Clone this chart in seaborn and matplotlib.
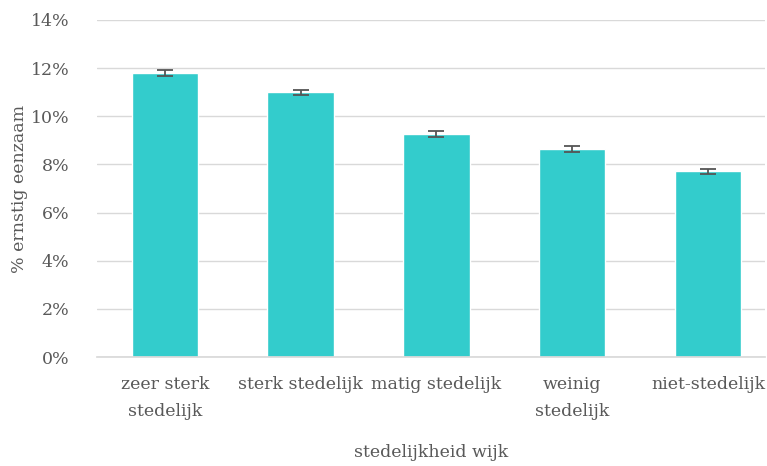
import numpy as np
import pandas as pd
import matplotlib
matplotlib.use('Agg')
import matplotlib.pyplot as plt
import seaborn as sns
from matplotlib.ticker import PercentFormatter

# ------------------------------------------------------------------
# Data
# ------------------------------------------------------------------
categories = ['zeer sterk\nstedelijk', 'sterk stedelijk', 'matig stedelijk',
              'weinig\nstedelijk', 'niet-stedelijk']
pct_lonely = [11.8, 11.0, 9.25, 8.65, 7.72]
err = [0.14, 0.11, 0.13, 0.12, 0.10]
yticks = [0, 2, 4, 6, 8, 10, 12, 14]

df = pd.DataFrame({'cat': categories, 'pct': pct_lonely})

sns.set_theme(style='white')
plt.rcParams['font.family'] = ['DejaVu Serif']

text_col = '#595959'
fig = plt.figure(figsize=(7.67, 4.66), dpi=100)
ax = fig.add_axes([97 / 767, 1 - 357 / 466, 668 / 767, 337 / 466])

sns.barplot(data=df, x='cat', y='pct', color='#33CCCC', saturation=1,
            width=0.49, errorbar=None, ax=ax, zorder=2)
ax.errorbar(np.arange(len(categories)), pct_lonely, yerr=err, fmt='none',
            ecolor='#555555', elinewidth=1.3, capsize=6, capthick=1.3, zorder=3)

ax.set_ylim(0, 14)
ax.set_xlim(-0.5, 4.42)
ax.set_yticks(yticks)
ax.yaxis.set_major_formatter(PercentFormatter(decimals=0))
ax.grid(axis='y', color='#D9D9D9', linewidth=1, zorder=0)
ax.set_axisbelow(True)
for s in ['top', 'right', 'left']:
    ax.spines[s].set_visible(False)
ax.spines['bottom'].set_color('#D9D9D9')
ax.tick_params(axis='both', length=0, labelsize=12.5, colors=text_col)
ax.tick_params(axis='y', pad=20)
ax.tick_params(axis='x', pad=14)
for lbl in ax.get_xticklabels():
    lbl.set_linespacing(1.75)

ax.set_xlabel('stedelijkheid wijk', fontsize=12.5, color=text_col, labelpad=17)
ax.set_ylabel('% ernstig eenzaam', fontsize=12.5, color=text_col, labelpad=2)

plt.savefig('out.png', dpi=100)
